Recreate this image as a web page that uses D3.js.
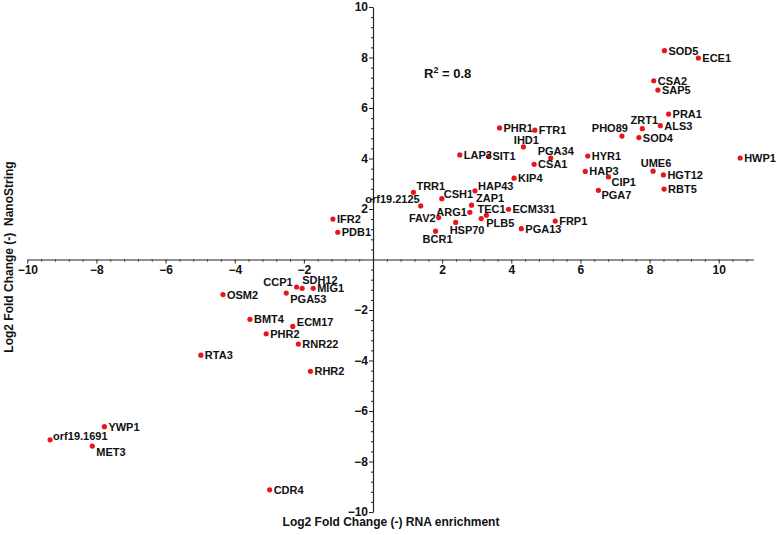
<!DOCTYPE html>
<html>
<head>
<meta charset="utf-8">
<script src="https://cdn.jsdelivr.net/npm/d3@7"></script>
<style>
  html, body { margin: 0; padding: 0; background: #fff; }
  svg { display: block; font-family: Arial, "Liberation Sans", Helvetica, sans-serif; }
</style>
</head>
<body>
<svg id="chart" width="777" height="535"></svg>
<script>
// ---- data ----
const genes = ["SOD5","ECE1","CSA2","SAP5","PRA1","ALS3","ZRT1","PHO89","SOD4","HWP1",
  "HYR1","HAP3","CIP1","PGA7","UME6","HGT12","RBT5","PHR1","FTR1","IHD1",
  "LAP3","SIT1","PGA34","CSA1","KIP4","TRR1","orf19.2125","CSH1","HAP43","ZAP1",
  "ARG1","TEC1","PLB5","ECM331","FAV2","HSP70","BCR1","PGA13","FRP1","IFR2",
  "PDB1","CCP1","SDH12","MIG1","PGA53","OSM2","BMT4","ECM17","PHR2","RNR22",
  "RTA3","RHR2","YWP1","orf19.1691","MET3","CDR4"];
const rnaLog2FC = [8.43,9.41,8.12,8.24,8.55,8.31,7.79,7.20,7.69,10.62,
  6.21,6.14,6.81,6.52,8.10,8.40,8.42,3.66,4.68,4.35,
  2.51,3.34,5.14,4.66,4.08,1.17,1.38,1.99,2.95,2.85,
  2.80,3.28,3.13,3.92,1.90,2.39,1.81,4.29,5.27,-1.16,
  -1.02,-2.21,-2.05,-1.73,-2.51,-4.34,-3.56,-2.32,-3.09,-2.16,
  -4.98,-1.81,-7.77,-9.34,-8.12,-2.99];
const nanoLog2FC = [8.27,7.98,7.08,6.71,5.76,5.30,5.18,4.89,4.83,4.02,
  4.10,3.49,3.27,2.74,3.50,3.35,2.79,5.21,5.12,4.46,
  4.14,4.10,4.02,3.77,3.22,2.66,2.12,2.41,2.72,2.15,
  1.87,1.75,1.62,1.99,1.66,1.47,1.12,1.22,1.52,1.60,
  1.08,-1.09,-1.14,-1.14,-1.33,-1.39,-2.37,-2.65,-2.94,-3.35,
  -3.79,-4.43,-6.62,-7.14,-7.39,-9.12];
const xTickValues = [-10,-8,-6,-4,-2,2,4,6,8,10];
const yTickValues = [-10,-8,-6,-4,-2,2,4,6,8,10];
const xTitle = "Log2 Fold Change (-) RNA enrichment";
const yTitle = "Log2 Fold Change (-)\u00a0\u00a0NanoString";
const r2Text = "0.8";

// ---- label layout (px offsets from the point) ----
const labelLayout = {
  "ZRT1": [2,-9,"middle"], "PHO89": [6,-8,"end"], "CIP1": [3,5,"start"],
  "UME6": [3,-8,"middle"], "PGA7": [3,5,"start"], "IHD1": [3,-7,"middle"],
  "PGA34": [5,-7,"middle"], "TRR1": [3,-6,"start"], "orf19.2125": [-1,-7,"end"],
  "CSH1": [2,-5,"start"], "HAP43": [3,-5,"start"], "ZAP1": [4.5,-7,"start"],
  "ARG1": [-3,0,"end"], "TEC1": [-9,-6,"start"], "PLB5": [5,4,"start"],
  "FAV2": [-3,0,"end"], "HSP70": [-6,8,"start"], "BCR1": [2,8,"middle"],
  "CCP1": [-4,-5,"end"], "SDH12": [0,-8,"start"], "PGA53": [4,6,"start"],
  "ECM17": [4,-4,"start"], "orf19.1691": [3,-4,"start"], "MET3": [4,6,"start"]
};

const points = genes.map((g, i) => ({ gene: g, x: rnaLog2FC[i], y: nanoLog2FC[i] }));

const svg = d3.select("#chart");
const x = d3.scaleLinear().domain([-10, 11]).range([27.3, 753.3]);
const y = d3.scaleLinear().domain([-10, 10]).range([512, 7]);

const minorX = d3.range(-10, 11.001, 0.4).map(v => +v.toFixed(2)).filter(v => Math.abs(v / 2 - Math.round(v / 2)) > 1e-6);
const minorY = d3.range(-10, 10.001, 0.4).map(v => +v.toFixed(2)).filter(v => Math.abs(v / 2 - Math.round(v / 2)) > 1e-6);

// x axis
const gx = svg.append("g").attr("transform", `translate(0,${y(0)})`);
gx.call(d3.axisBottom(x).tickValues(minorX).tickSize(2).tickSizeOuter(0).tickFormat(""));
gx.append("g").call(d3.axisBottom(x).tickValues(xTickValues).tickSize(4).tickPadding(2).tickSizeOuter(0).tickFormat(d3.format("d")))
  .call(g => g.select(".domain").remove());

// y axis
const gy = svg.append("g").attr("transform", `translate(${x(0)},0)`);
gy.call(d3.axisLeft(y).tickValues(minorY).tickSize(2).tickSizeOuter(0).tickFormat(""));
gy.append("g").call(d3.axisLeft(y).tickValues(yTickValues).tickSize(4).tickPadding(1).tickSizeOuter(0).tickFormat(d3.format("d")))
  .call(g => g.select(".domain").remove());

svg.selectAll(".domain").attr("stroke", "#222").attr("stroke-width", 1.2);
svg.selectAll(".tick line").attr("stroke", "#222").attr("stroke-width", 1);
svg.selectAll(".tick text").attr("font-size", 12).attr("font-weight", "bold")
  .attr("font-family", "Arial, 'Liberation Sans', sans-serif").attr("fill", "#111");

// points
svg.append("g").selectAll("circle").data(points).join("circle")
  .attr("cx", d => x(d.x)).attr("cy", d => y(d.y)).attr("r", 2.6)
  .attr("fill", "#e8151b");

// labels
svg.append("g").selectAll("text").data(points).join("text")
  .attr("x", d => x(d.x) + (labelLayout[d.gene] ? labelLayout[d.gene][0] : 4))
  .attr("y", d => y(d.y) + (labelLayout[d.gene] ? labelLayout[d.gene][1] : 0))
  .attr("dy", "0.36em")
  .attr("text-anchor", d => labelLayout[d.gene] ? labelLayout[d.gene][2] : "start")
  .attr("font-size", 11).attr("font-weight", "bold").attr("fill", "#111")
  .text(d => d.gene);

// R^2 annotation
const r2 = svg.append("text").attr("x", 424).attr("y", 78)
  .attr("font-size", 13).attr("font-weight", "bold").attr("fill", "#111");
r2.append("tspan").text("R");
r2.append("tspan").attr("font-size", 9).attr("dy", -5).text("2");
r2.append("tspan").attr("dy", 5).text(" = " + r2Text);

// axis titles
svg.append("text").attr("x", 391).attr("y", 526).attr("text-anchor", "middle")
  .attr("font-size", 12).attr("font-weight", "bold").attr("fill", "#111").text(xTitle);
svg.append("text").attr("transform", "translate(13,257) rotate(-90)").attr("text-anchor", "middle")
  .attr("font-size", 12).attr("font-weight", "bold").attr("fill", "#111").text(yTitle);
</script>
</body>
</html>
